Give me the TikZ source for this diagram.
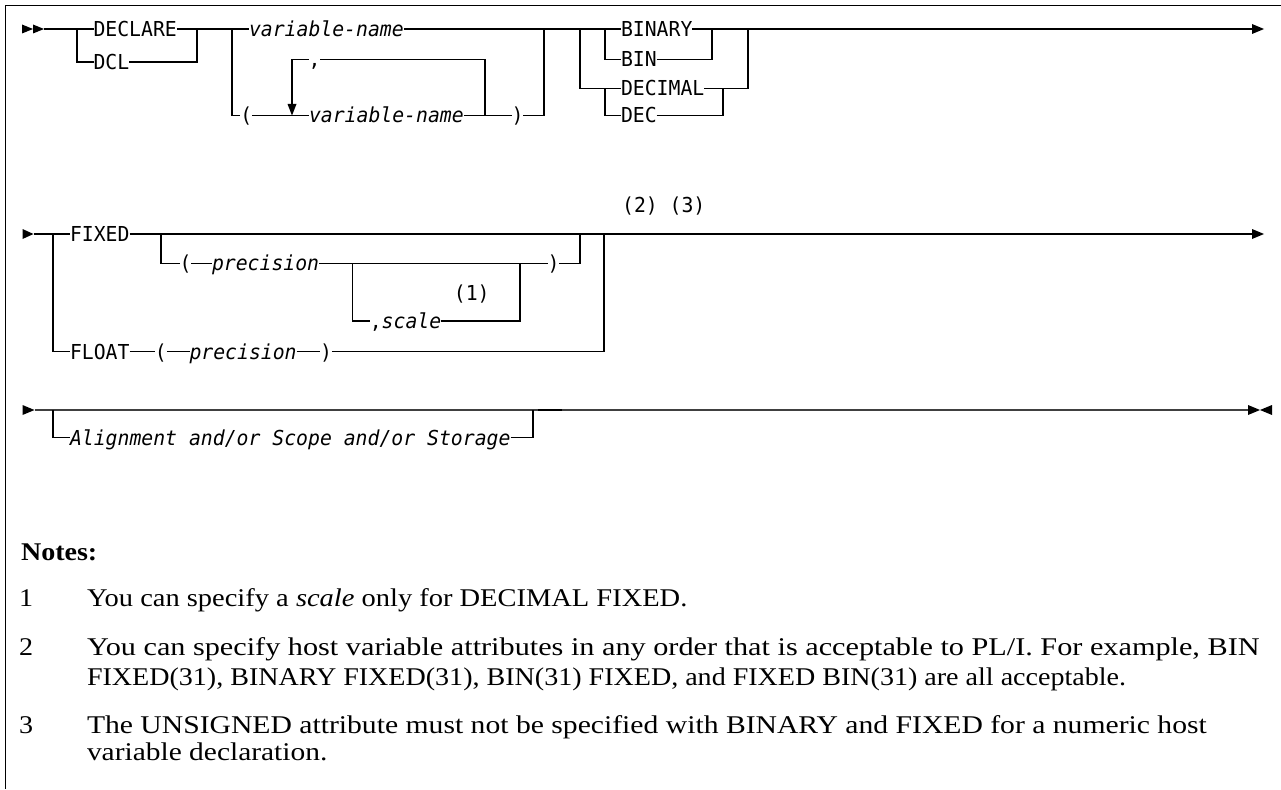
\documentclass[tikz,border=0pt]{standalone}
\usepackage{graphicx}
\usepackage{fontspec}
\setmainfont{Liberation Serif}[FakeStretch=1.1]
\newfontfamily\railfont{DejaVu Sans Mono}[FakeStretch=0.96]
\begin{document}
\begin{tikzpicture}[x=1pt,y=-1pt,
  rail/.style={line width=1.1pt},
  railb/.style={line width=1.5pt, draw=black!75},
  kw/.style={font=\railfont\fontsize{20.6}{22}\selectfont, inner sep=0pt, outer sep=0pt, text height=15pt, text depth=0pt, anchor=west},
  var/.style={kw, font=\railfont\itshape\fontsize{20.6}{22}\selectfont},
  note/.style={font=\fontsize{25.5}{30}\selectfont, inner sep=0pt, outer sep=0pt, anchor=base west},
  notebold/.style={note, font=\bfseries\fontsize{25.5}{30}\selectfont}
]
\useasboundingbox (0,0) rectangle (1281,789);
% frame
\draw[line width=1.4pt] (1281,5.5) -- (5.5,5.5) -- (5.5,789);

% ---------------- row 1
\fill (22,24.5) -- (33,29) -- (22,33.5) -- cycle;
\fill (33,24.5) -- (44,29) -- (33,33.5) -- cycle;
\coordinate (s1) at (44,29);
\coordinate (e1) at (1252,29);
\node[kw] (decl) at (93.5,29) {DECLARE};
\node[kw] (dcl) at (93.5,62) {DCL};
\node[var] (vn1) at (249,29) {variable-name};
\node[kw] (lp1) at (240.4,115.5) {(};
\node[kw] (cm1) at (308.5,59.3) {,};
\node[var] (vn2) at (309,115.5) {variable-name};
\node[kw] (rp1) at (511.5,115.5) {)};
\node[kw] (binary) at (621,29) {BINARY};
\node[kw] (bin) at (621,59.5) {BIN};
\node[kw] (decimal) at (621,88.3) {DECIMAL};
\node[kw] (dec) at (621,115.5) {DEC};

\draw[rail] (s1) -- (decl.west);
\draw[rail] (decl.east) -- (vn1.west);
\draw[rail] (77,29) |- (dcl.west);
\draw[rail] (dcl.east) -| (197,29);
\draw[rail] (232,29) |- (lp1.west);
\draw[rail] (lp1.east) -- (vn2.west);
\draw[rail] (vn2.east) -- (rp1.west);
\draw[rail] (rp1.east) -| (544,29);
\draw[rail] (485,115.5) |- (cm1.east);
\draw[rail] (cm1.west) -| (292,104);
\fill (287.5,104) -- (296.5,104) -- (292,115.5) -- cycle;
\draw[rail] (vn1.east) -- (binary.west);
\draw[rail] (binary.east) -- (e1);
\fill (1252,24) -- (1264,29) -- (1252,34) -- cycle;
\draw[rail] (580,29) |- (decimal.west);
\draw[rail] (605,29) |- (bin.west);
\draw[rail] (605,88.3) |- (dec.west);
\draw[rail] (bin.east) -| (712,29);
\draw[rail] (decimal.east) -| (748,29);
\draw[rail] (dec.east) -| (723,88.3);

% ---------------- row 2
\fill (22.5,229) -- (33.5,234) -- (22.5,239) -- cycle;
\coordinate (s2) at (33.5,234);
\coordinate (e2) at (1252,234);
\node[kw] (fixed) at (70,234) {FIXED};
\node[kw] (lp2) at (179.5,263.3) {(};
\node[var] (pr1) at (212,263.3) {precision};
\node[kw] (rp2) at (547.5,263.3) {)};
\node[kw] (scl) at (369.8,321) {,\itshape scale};
\node[kw, anchor=center] (n1) at (471.7,293) {(1)};
\node[kw] (float) at (70,351.5) {FLOAT};
\node[kw] (lp3) at (154.9,351.5) {(};
\node[var] (pr2) at (189.5,351.5) {precision};
\node[kw] (rp3) at (320,351.5) {)};
\node[kw, anchor=center] (n2) at (640,205) {(2)};
\node[kw, anchor=center] (n3) at (687.5,205) {(3)};

\draw[rail] (s2) -- (fixed.west);
\draw[rail] (fixed.east) -- (e2);
\fill (1252,229) -- (1264,234) -- (1252,239) -- cycle;
\draw[rail] (53,234) |- (float.west);
\draw[rail] (161,234) |- (lp2.west);
\draw[rail] (lp2.east) -- (pr1.west);
\draw[rail] (pr1.east) -- (rp2.west);
\draw[rail] (rp2.east) -| (580,234);
\draw[rail] (352.3,263.3) |- (scl.west);
\draw[rail] (scl.east) -| (520,263.3);
\draw[rail] (float.east) -- (lp3.west);
\draw[rail] (lp3.east) -- (pr2.west);
\draw[rail] (pr2.east) -- (rp3.west);
\draw[rail] (rp3.east) -| (604,234);

% ---------------- row 3
\fill (22.5,405) -- (34.5,410) -- (22.5,415) -- cycle;
\coordinate (s3) at (34.5,410);
\coordinate (e3) at (1248,410);
\node[var] (al) at (70,437.5) {Alignment and/or Scope and/or Storage};
\draw[railb] (s3) -- (e3);
\draw[line width=2pt] (538,410) -- (562,410);
\fill (1248,405) -- (1260,410) -- (1248,415) -- cycle;
\fill (1272,405) -- (1260,410) -- (1272,415) -- cycle;
\draw[rail] (53,410) |- (al.west);
\draw[rail] (al.east) -| (533,410);

% ---------------- notes
\node[notebold] (notes) at (21,560) {Notes:};
\node[note] (k1) at (19,606.5) {1};
\node[note] (t1) at (87,606.5) {\scalebox{1.015}[1]{You can specify a \textit{scale} only for DECIMAL FIXED.}};
\node[note] (k2) at (19,655.5) {2};
\node[note] (t2a) at (87,655.5) {\scalebox{1.078}[1]{You can specify host variable attributes in any order that is acceptable to PL/I. For example, BIN}};
\node[note] (t2b) at (87,685.5) {FIXED(31), BINARY FIXED(31), BIN(31) FIXED, and FIXED BIN(31) are all acceptable.};
\node[note] (k3) at (19,733.5) {3};
\node[note] (t3a) at (87,733.5) {\scalebox{1.057}[1]{The UNSIGNED attribute must not be specified with BINARY and FIXED for a numeric host}};
\node[note] (t3b) at (87,760.5) {\scalebox{1.05}[1]{variable declaration.}};
\end{tikzpicture}
\end{document}
